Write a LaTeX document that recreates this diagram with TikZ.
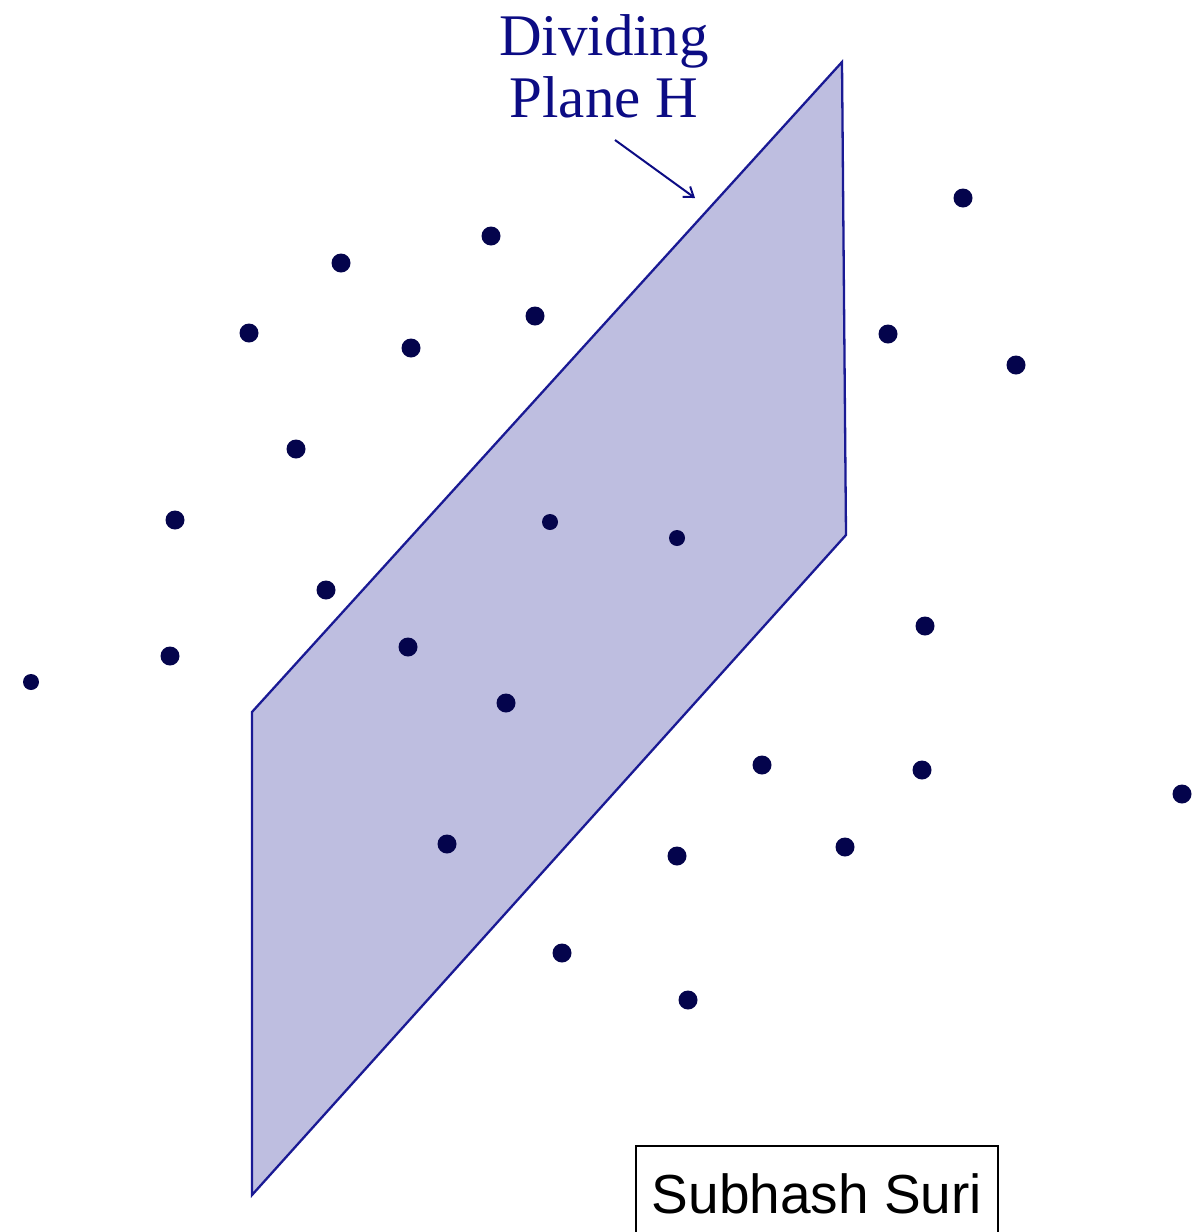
\documentclass[tikz,border=0pt]{standalone}
\usepackage{fontspec}
\newfontfamily\timesfont{Liberation Serif}
\newfontfamily\arialfont{Liberation Sans}
\usetikzlibrary{arrows.meta}
\definecolor{PlaneEdge}{HTML}{1A1A94}
\definecolor{PlaneFill}{HTML}{BEBEE0}
\definecolor{PtNavy}{HTML}{04044C}
\definecolor{LblNavy}{HTML}{0C0C84}

\begin{document}
\begin{tikzpicture}[x=1pt,y=-1pt,
 plane/.style={line width=2.3pt,draw=PlaneEdge,fill=PlaneFill,line join=miter},
 pt/.style={circle,fill=PtNavy,inner sep=0pt,minimum size=19pt},
 ptsm/.style={pt,minimum size=16pt},
 lbl/.style={text=LblNavy,font=\timesfont\fontsize{59}{60}\selectfont,inner sep=0pt,anchor=base},
 pointer/.style={-{Straight Barb[length=9pt,width=13pt]},line width=2pt,draw=LblNavy},
 author/.style={draw=black,line width=1.3pt,font=\arialfont\fontsize{55}{60}\selectfont,
   anchor=base,minimum width=362pt,text height=40pt,text depth=14pt,inner xsep=0pt,inner ysep=27pt}]
\useasboundingbox (0,0) rectangle (1200,1232);
% the dividing plane
\draw[plane] (252,712)--(842,62)--(846,535)--(252,1195)--cycle;
% point set
\foreach \x/\y [count=\i] in {963/198,491/236,341/263,535/316,249/333,411/348,888/334,1016/365,
  296/449,175/520,326/590,925/626,170/656,408/647,506/703,762/765,922/770,1182/794,
  447/844,677/856,845/847,562/953,688/1000}
  \node[pt] (p\i) at (\x,\y) {};
\node[ptsm] (q1) at (550,522) {};
\node[ptsm] (q2) at (677,538) {};
\node[ptsm] (q3) at (31,682) {};
% label and pointer
\node[lbl] (lblA) at (604,55) {Dividing};
\node[lbl] (lblB) at (604,117) {Plane H};
\coordinate (tail) at (615,140);
\coordinate (head) at (695,198);
\draw[pointer] (tail)--(head);
\node[author] (name) at (817,1213) {Subhash Suri};
\end{tikzpicture}
\end{document}
